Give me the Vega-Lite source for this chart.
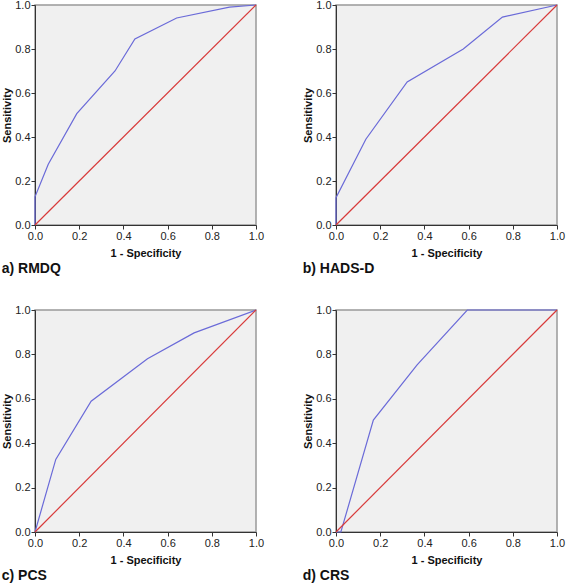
{
  "$schema": "https://vega.github.io/schema/vega-lite/v6.json",
  "padding": {"left": 0, "top": -2, "right": 0, "bottom": 0},
  "background": "white",
  "datasets": {
    "roc": [
      {"panel": "a", "s": "roc", "i": 0, "x": 0, "y": 0},
      {"panel": "a", "s": "roc", "i": 1, "x": 0, "y": 0.128},
      {"panel": "a", "s": "roc", "i": 2, "x": 0.06, "y": 0.276},
      {"panel": "a", "s": "roc", "i": 3, "x": 0.189, "y": 0.506},
      {"panel": "a", "s": "roc", "i": 4, "x": 0.362, "y": 0.70},
      {"panel": "a", "s": "roc", "i": 5, "x": 0.452, "y": 0.846},
      {"panel": "a", "s": "roc", "i": 6, "x": 0.641, "y": 0.941},
      {"panel": "a", "s": "roc", "i": 7, "x": 0.88, "y": 0.99},
      {"panel": "a", "s": "roc", "i": 8, "x": 1, "y": 1},
      {"panel": "a", "s": "ref", "i": 0, "x": 0, "y": 0},
      {"panel": "a", "s": "ref", "i": 1, "x": 1, "y": 1},
      {"panel": "b", "s": "roc", "i": 0, "x": 0, "y": 0},
      {"panel": "b", "s": "roc", "i": 1, "x": 0, "y": 0.124},
      {"panel": "b", "s": "roc", "i": 2, "x": 0.135, "y": 0.39},
      {"panel": "b", "s": "roc", "i": 3, "x": 0.322, "y": 0.65},
      {"panel": "b", "s": "roc", "i": 4, "x": 0.576, "y": 0.80},
      {"panel": "b", "s": "roc", "i": 5, "x": 0.753, "y": 0.945},
      {"panel": "b", "s": "roc", "i": 6, "x": 1, "y": 1},
      {"panel": "b", "s": "ref", "i": 0, "x": 0, "y": 0},
      {"panel": "b", "s": "ref", "i": 1, "x": 1, "y": 1},
      {"panel": "c", "s": "roc", "i": 0, "x": 0, "y": 0},
      {"panel": "c", "s": "roc", "i": 1, "x": 0.094, "y": 0.327},
      {"panel": "c", "s": "roc", "i": 2, "x": 0.254, "y": 0.589},
      {"panel": "c", "s": "roc", "i": 3, "x": 0.509, "y": 0.78},
      {"panel": "c", "s": "roc", "i": 4, "x": 0.72, "y": 0.897},
      {"panel": "c", "s": "roc", "i": 5, "x": 1, "y": 1},
      {"panel": "c", "s": "ref", "i": 0, "x": 0, "y": 0},
      {"panel": "c", "s": "ref", "i": 1, "x": 1, "y": 1},
      {"panel": "d", "s": "roc", "i": 0, "x": 0, "y": 0},
      {"panel": "d", "s": "roc", "i": 1, "x": 0.022, "y": 0},
      {"panel": "d", "s": "roc", "i": 2, "x": 0.169, "y": 0.504},
      {"panel": "d", "s": "roc", "i": 3, "x": 0.367, "y": 0.753},
      {"panel": "d", "s": "roc", "i": 4, "x": 0.594, "y": 1},
      {"panel": "d", "s": "roc", "i": 5, "x": 1, "y": 1},
      {"panel": "d", "s": "ref", "i": 0, "x": 0, "y": 0},
      {"panel": "d", "s": "ref", "i": 1, "x": 1, "y": 1}
    ]
  },
  "config": {
    "font": "Liberation Sans",
    "axis": {
      "labelFont": "Liberation Sans",
      "labelFontSize": 11,
      "labelColor": "#222",
      "titleFont": "Liberation Sans",
      "titleFontSize": 11,
      "titleFontWeight": "bold",
      "titleColor": "#111",
      "grid": false,
      "domainColor": "#333",
      "tickColor": "#333",
      "tickSize": 4,
      "labelPadding": 1,
      "labelFlush": false
    },
    "axisX": {"titlePadding": 6, "labelFlush": false},
    "axisY": {"titlePadding": 2},
    "view": {"fill": "#f0f0f0", "stroke": "#999", "strokeWidth": 1.5},
    "title": {"font": "Liberation Sans", "fontSize": 14, "fontWeight": "bold", "color": "#111", "orient": "bottom", "anchor": "start", "frame": "bounds", "offset": 4},
    "concat": {"spacing": 36}
  },
  "spacing": 26,
  "vconcat": [
    {
      "spacing": 36,
      "hconcat": [
        {
          "data": {"name": "roc"},
          "transform": [{"filter": "datum.panel == 'a'"}],
          "width": 221, "height": 220,
          "title": {"text": "a) RMDQ"},
          "mark": {"type": "line", "strokeWidth": 1.2},
          "encoding": {
            "x": {"field": "x", "type": "quantitative", "scale": {"domain": [0, 1]}, "axis": {"title": "1 - Specificity", "values": [0, 0.2, 0.4, 0.6, 0.8, 1], "format": ".1f"}},
            "y": {"field": "y", "type": "quantitative", "scale": {"domain": [0, 1]}, "axis": {"title": "Sensitivity", "values": [0, 0.2, 0.4, 0.6, 0.8, 1], "format": ".1f"}},
            "color": {"field": "s", "type": "nominal", "scale": {"domain": ["roc", "ref"], "range": ["#6a6ad8", "#d83a3a"]}, "legend": null},
            "order": {"field": "i", "type": "quantitative"}
          }
        },
        {
          "data": {"name": "roc"},
          "transform": [{"filter": "datum.panel == 'b'"}],
          "width": 221, "height": 220,
          "title": {"text": "b) HADS-D"},
          "mark": {"type": "line", "strokeWidth": 1.2},
          "encoding": {
            "x": {"field": "x", "type": "quantitative", "scale": {"domain": [0, 1]}, "axis": {"title": "1 - Specificity", "values": [0, 0.2, 0.4, 0.6, 0.8, 1], "format": ".1f"}},
            "y": {"field": "y", "type": "quantitative", "scale": {"domain": [0, 1]}, "axis": {"title": "Sensitivity", "values": [0, 0.2, 0.4, 0.6, 0.8, 1], "format": ".1f"}},
            "color": {"field": "s", "type": "nominal", "scale": {"domain": ["roc", "ref"], "range": ["#6a6ad8", "#d83a3a"]}, "legend": null},
            "order": {"field": "i", "type": "quantitative"}
          }
        }
      ]
    },
    {
      "spacing": 36,
      "hconcat": [
        {
          "data": {"name": "roc"},
          "transform": [{"filter": "datum.panel == 'c'"}],
          "width": 221, "height": 222,
          "title": {"text": "c) PCS"},
          "mark": {"type": "line", "strokeWidth": 1.2},
          "encoding": {
            "x": {"field": "x", "type": "quantitative", "scale": {"domain": [0, 1]}, "axis": {"title": "1 - Specificity", "values": [0, 0.2, 0.4, 0.6, 0.8, 1], "format": ".1f"}},
            "y": {"field": "y", "type": "quantitative", "scale": {"domain": [0, 1]}, "axis": {"title": "Sensitivity", "values": [0, 0.2, 0.4, 0.6, 0.8, 1], "format": ".1f"}},
            "color": {"field": "s", "type": "nominal", "scale": {"domain": ["roc", "ref"], "range": ["#6a6ad8", "#d83a3a"]}, "legend": null},
            "order": {"field": "i", "type": "quantitative"}
          }
        },
        {
          "data": {"name": "roc"},
          "transform": [{"filter": "datum.panel == 'd'"}],
          "width": 221, "height": 222,
          "title": {"text": "d) CRS"},
          "mark": {"type": "line", "strokeWidth": 1.2},
          "encoding": {
            "x": {"field": "x", "type": "quantitative", "scale": {"domain": [0, 1]}, "axis": {"title": "1 - Specificity", "values": [0, 0.2, 0.4, 0.6, 0.8, 1], "format": ".1f"}},
            "y": {"field": "y", "type": "quantitative", "scale": {"domain": [0, 1]}, "axis": {"title": "Sensitivity", "values": [0, 0.2, 0.4, 0.6, 0.8, 1], "format": ".1f"}},
            "color": {"field": "s", "type": "nominal", "scale": {"domain": ["roc", "ref"], "range": ["#6a6ad8", "#d83a3a"]}, "legend": null},
            "order": {"field": "i", "type": "quantitative"}
          }
        }
      ]
    }
  ]
}
